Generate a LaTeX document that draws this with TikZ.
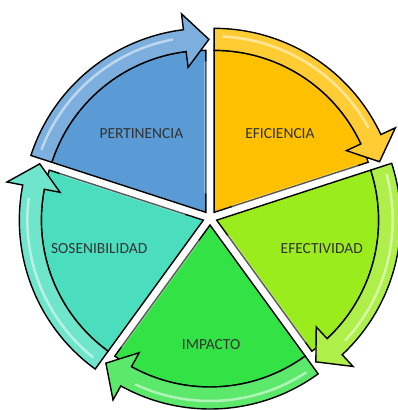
\documentclass[tikz,border=0pt]{standalone}
\usepackage{fontspec}
\setmainfont{Carlito}
\usepackage{xcolor}
\usepackage{tikz}
\usetikzlibrary{calc}

\definecolor{pertblue}{HTML}{5B9BD5}
\definecolor{eficyellow}{HTML}{FFC000}
\definecolor{efectlime}{HTML}{9AEC1C}
\definecolor{impgreen}{HTML}{33E346}
\definecolor{sosteal}{HTML}{4BDEBE}

\begin{document}
\begin{tikzpicture}[x=1bp, y=1bp, every node/.style={font=\fontsize{15.5}{18}\selectfont, text=black!80, inner sep=0pt}]
    \useasboundingbox (0,0) rectangle (398,410);
    \coordinate (centre) at (210,192);
    \foreach \a/\c in {162/pertblue, 90/eficyellow, 18/efectlime, -54/impgreen, -126/sosteal} {
        \begin{scope}[shift={($(centre)+(\a-36:7)$)}]
            % sector
            \filldraw[fill=\c, line width=1.4bp] (0,0) -- (\a:162) arc[start angle=\a, end angle=\a-72, radius=162] -- cycle;
            % curved arrow round it
            \filldraw[fill=\c!80!white, line width=1.4bp] (\a:162) -- (\a:184) arc[start angle=\a, end angle=\a-65, radius=184]
                -- (\a-65:200) -- (\a-73:173) -- (\a-65:146) -- (\a-65:162) arc[start angle=\a-65, end angle=\a, radius=162] -- cycle;
            \draw[white, opacity=0.5, line width=2.5bp, line cap=round] (\a-3:176) arc[start angle=\a-3, end angle=\a-61, radius=176];
            \draw[white, opacity=0.35, line width=3bp, line cap=round] (\a-72:20) -- (\a-72:150);
        \end{scope}
    }
    \foreach \t/\ang/\r/\n in {PERTINENCIA/129/109/pert, EFICIENCIA/50.5/110/efic, EFECTIVIDAD/-15.5/116/efect, IMPACTO/-89.5/127/imp, SOSENIBILIDAD/195.6/115/sos} {
        \node (\n) at ($(centre)+(\ang:\r)$) {\t};
    }
\end{tikzpicture}
\end{document}
